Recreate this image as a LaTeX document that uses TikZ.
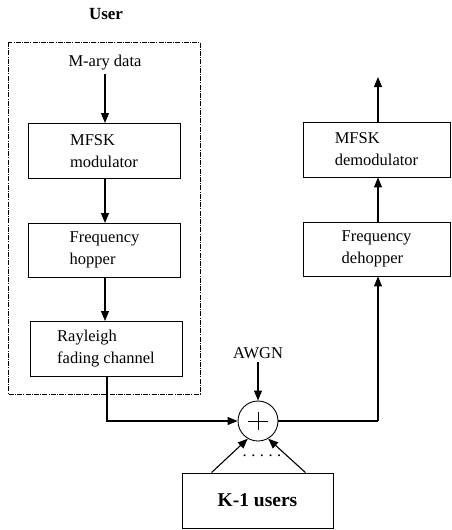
\documentclass[tikz,border=0pt]{standalone}
\usepackage{fontspec}
\setmainfont{Liberation Serif}
\usetikzlibrary{arrows.meta,calc}
\begin{document}
\begin{tikzpicture}[x=1pt,y=-1pt,
  font=\fontsize{16.5}{22}\selectfont,
  box/.style={draw,line width=0.9pt,align=left,minimum width=152pt,minimum height=55pt,inner sep=0pt},
  arr/.style={line width=1.1pt,-{Triangle[length=10pt,width=8pt]}},
  ln/.style={line width=1.1pt},
  sumnode/.style={draw,circle,line width=0.9pt,minimum size=40pt,inner sep=0pt,
    path picture={\draw[line width=0.7pt] ([xshift=-10pt]path picture bounding box.center) -- ([xshift=10pt]path picture bounding box.center);
                  \draw[line width=0.7pt] ([yshift=-9pt]path picture bounding box.center) -- ([yshift=9pt]path picture bounding box.center);}},
  userframe/.style={draw,line width=0.6pt,dash pattern=on 5pt off 1.2pt on 1pt off 1.2pt}
]
\useasboundingbox (0,0) rectangle (452,530);
\node[font=\fontsize{17}{20}\selectfont\bfseries] (user) at (106,14) {User};
\draw[userframe] (8,42) rectangle (200,394);
\node (data) at (105,63) {M-ary data};
\node[box] (mod) at (104,151) {MFSK\\modulator};
\node[box,minimum height=54pt] (hop) at (104.5,250) {Frequency\\hopper};
\node[box] (ray) at (106,348.5) {Rayleigh\\fading channel};
\node[box,minimum width=147pt] (demod) at (376.5,149.5) {MFSK\\demodulator};
\node[box,minimum width=147pt,minimum height=54pt] (dehop) at (376.5,249) {Frequency\\dehopper};
\node[box,minimum width=151pt,font=\fontsize{19.5}{22}\selectfont\bfseries] (others) at (257.5,500.5) {K-1 users};
\node[sumnode] (sum) at (258,421) {};
\node (awgn) at (258,353) {AWGN};
\node (dots) at (262,456) {.\hspace{4.5pt}.\hspace{4.5pt}.\hspace{4.5pt}.\hspace{4.5pt}.};
\coordinate (outtop) at (378,77);
\coordinate (corner1) at (107,421);
\coordinate (corner2) at (378,421);

\draw[arr] (data.south -| mod.north) ++(1,0) -- (105,123);
\draw[arr] (105,179) -- (105,223);
\draw[arr] (105,277) -- (105,321);
\draw[arr] (ray.south -| corner1) -- (corner1) -- (sum.west);
\draw[arr] (awgn.south) -- (sum.north);
\draw[ln] (sum.east) -- (corner2);
\draw[arr] (corner2) -- (dehop.south -| corner2);
\draw[arr] (dehop.north -| corner2) -- (demod.south -| corner2);
\draw[arr] (demod.north -| corner2) -- (outtop);
\draw[arr] ($(others.north west)+(30,0)$) -- (sum.240);
\draw[arr] ($(others.north east)+(-28,0)$) -- (sum.300);
\end{tikzpicture}
\end{document}
